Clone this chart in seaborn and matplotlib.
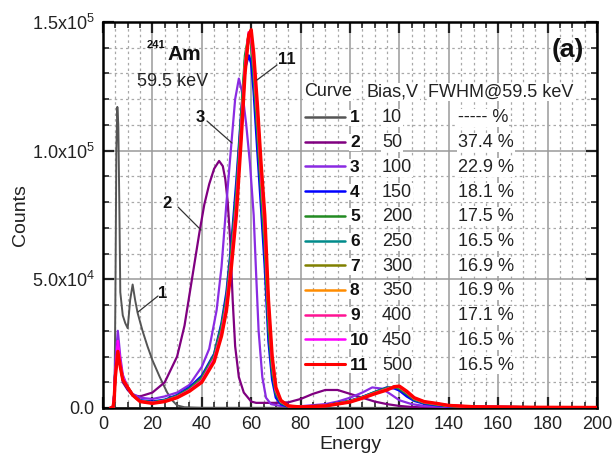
import numpy as np
import pandas as pd
import matplotlib
matplotlib.use("Agg")
import matplotlib.pyplot as plt
import seaborn as sns
from matplotlib.ticker import MultipleLocator, FixedLocator, FixedFormatter

# ---------------- data ----------------
curve_ids = ["1", "2", "3", "4", "5", "6", "7", "8", "9", "10", "11"]
bias_v = ["10", "50", "100", "150", "200", "250", "300", "350", "400", "450", "500"]
fwhm_txt = ["----- %", "37.4 %", "22.9 %", "18.1 %", "17.5 %", "16.5 %",
            "16.9 %", "16.9 %", "17.1 %", "16.5 %", "16.5 %"]
colors = ["#555555", "#800080", "#8A2BE2", "#0000FF", "#228B22", "#008B8B",
          "#808000", "#FF8C00", "#FF1493", "#FF00FF", "#FF0000"]

# curve 1 (10 V)
E1 = [3, 4, 4.6, 5, 5.4, 5.8, 6.2, 6.6, 7, 8, 9, 10, 11, 12, 13, 14, 16, 18, 20,
      23, 26, 28, 30, 33, 40, 200]
C1 = [0, 0, 0, 40000, 100000, 117000, 110000, 80000, 45000, 36000, 33000, 31000,
      42000, 48000, 42000, 37000, 30000, 24000, 18600, 12000, 6000, 3000, 1000,
      300, 100, 0]

# curve 2 (50 V)
E2 = [3, 4, 4.5, 5, 6, 7, 8, 10, 12, 15, 20, 25, 30, 33, 36, 39, 41, 43, 45, 47,
      48.5, 49.5, 50.5, 51.5, 52.5, 53.5, 55, 57, 60, 62, 65, 70, 75, 80, 85,
      90, 95, 100, 105, 110, 115, 120, 125, 130, 140, 200]
C2 = [0, 0, 5000, 15000, 25000, 17000, 10000, 7000, 5000, 4500, 6000, 10000,
      20000, 32000, 50000, 68000, 79000, 87000, 93000, 96000, 94000, 89000,
      80000, 65000, 42000, 24000, 12000, 6000, 2500, 2000, 2000, 2000, 2200,
      3500, 5500, 7000, 7000, 5500, 4000, 2500, 1500, 800, 400, 200, 100, 50]

# curve 3 (100 V)
E3 = [3, 4, 4.5, 5, 6, 7, 8, 10, 12, 15, 20, 25, 30, 35, 40, 43, 46, 48, 50, 52,
      53.5, 55, 56.5, 58, 59.5, 61, 62, 63, 64.5, 66, 68, 72, 80, 90, 95, 100,
      105, 109, 113, 117, 120, 125, 130, 140, 200]
C3 = [0, 0, 5000, 18000, 30000, 20000, 13000, 8000, 5500, 4000, 3500, 4500, 6000,
      9000, 16000, 23000, 38000, 55000, 80000, 103000, 120000, 128000, 122000,
      110000, 95000, 75000, 52000, 30000, 12000, 4000, 1500, 800, 700, 1500,
      2500, 4000, 6000, 8000, 7500, 5000, 3000, 1500, 800, 400, 200]

# curves 4-11 share one energy grid
E_main = [3, 4, 4.5, 5, 6, 7, 8, 10, 12, 15, 20, 25, 30, 35, 40, 45, 48, 50, 52,
          54, 56, 57.5, 59, 60, 61, 62.5, 64, 65.5, 67, 68.5, 70, 72, 75, 80, 90,
          100, 105, 110, 115, 118, 120, 123, 126, 130, 135, 140, 150, 170, 200]
C4 = [0, 0, 4000, 14000, 25000, 17000, 11000, 7500, 5000, 3000, 2500, 3200, 5000,
      8000, 12500, 21000, 33000, 45000, 64000, 88000, 115000, 132000, 137000,
      134000, 123000, 100000, 78000, 55000, 26000, 11000, 4000, 1500, 500, 400,
      1000, 2800, 4300, 6200, 8000, 7600, 6800, 4500, 2800, 1700, 1100, 700,
      400, 300, 200]
C5 = [0, 0, 3800, 14000, 24000, 17000, 11500, 8000, 5000, 2800, 2200, 3000, 4700,
      7500, 11800, 20500, 32000, 43000, 62000, 84000, 114000, 137000, 145000,
      141000, 129000, 107000, 84000, 62000, 31000, 14000, 5500, 2000, 600, 400,
      950, 2700, 4200, 6100, 7800, 8200, 7500, 5400, 3200, 2000, 1300, 800, 400,
      300, 200]
C6 = [0, 0, 3500, 13000, 24000, 17000, 11500, 8000, 5000, 2700, 2100, 2900, 4500,
      7200, 11300, 20000, 31000, 42000, 60000, 82000, 112000, 135000, 145000,
      142000, 131000, 110000, 87000, 66000, 34000, 16000, 6000, 2200, 700, 400,
      900, 2600, 4200, 6000, 7600, 8200, 7800, 5700, 3400, 2100, 1400, 800, 400,
      300, 200]
C7 = [0, 0, 3500, 13000, 23000, 17000, 11500, 8000, 5000, 2700, 2000, 2800, 4400,
      7000, 11000, 19500, 30000, 41000, 59000, 80000, 110000, 134000, 145000,
      143000, 133000, 112000, 89000, 68000, 36000, 17000, 6500, 2400, 700, 400,
      900, 2600, 4100, 5900, 7500, 8300, 8000, 5900, 3600, 2200, 1500, 900, 500,
      300, 200]
C8 = [0, 0, 3500, 13000, 23000, 17000, 11500, 8000, 5000, 2600, 1900, 2700, 4200,
      6800, 10500, 19000, 29000, 40000, 57000, 78000, 108000, 133000, 146000,
      145000, 135000, 114000, 91000, 70000, 38000, 18000, 7000, 2600, 800, 400,
      850, 2500, 4000, 5700, 7300, 8300, 8200, 6100, 3700, 2300, 1600, 900, 500,
      300, 200]
C9 = [0, 0, 3500, 13000, 24000, 17000, 11500, 8000, 5000, 2600, 1900, 2600, 4100,
      6700, 10300, 18500, 28500, 39000, 56000, 77000, 107000, 131000, 145000,
      144000, 135000, 115000, 92000, 71000, 39000, 18500, 7000, 2700, 800, 400,
      850, 2400, 3900, 5600, 7200, 8200, 8300, 6200, 3800, 2400, 1700, 1000,
      500, 300, 200]
C10 = [0, 0, 4000, 14000, 26000, 18000, 12000, 8000, 5000, 2600, 1900, 2600,
       4200, 6800, 10500, 19000, 29000, 40000, 57000, 78000, 108000, 132000,
       146000, 145000, 136000, 116000, 93000, 72000, 40000, 19000, 7500, 2800,
       800, 400, 850, 2400, 3900, 5600, 7200, 8300, 8400, 6300, 3900, 2400,
       1700, 1000, 500, 300, 200]
C11 = [0, 0, 3000, 12000, 22000, 16000, 11000, 8000, 5000, 2500, 1800, 2500,
       4000, 6500, 10000, 18000, 28000, 38000, 55000, 75000, 105000, 130000,
       145000, 147000, 138000, 118000, 95000, 75000, 42000, 20000, 8000, 3000,
       800, 400, 800, 2300, 3800, 5500, 7000, 8300, 8500, 6500, 4000, 2500,
       1800, 1000, 500, 300, 200]

x_ticks = [0, 20, 40, 60, 80, 100, 120, 140, 160, 180, 200]
y_ticks = [0, 50000, 100000, 150000]
y_ticklabels = ["0.0", r"5.0x10$^4$", r"1.0x10$^5$", r"1.5x10$^5$"]

energies = [E1, E2, E3] + [E_main] * 8
counts = [C1, C2, C3, C4, C5, C6, C7, C8, C9, C10, C11]

frames = []
for cid, e, c in zip(curve_ids, energies, counts):
    frames.append(pd.DataFrame({"Energy": e, "Counts": c, "Curve": cid}))
df = pd.concat(frames, ignore_index=True)

# ---------------- figure ----------------
sns.set_theme(style="white")
plt.rcParams["font.family"] = ["Liberation Sans", "DejaVu Sans"]
plt.rcParams["mathtext.fontset"] = "custom"
plt.rcParams["mathtext.rm"] = "Liberation Sans"

W, H = 614, 455
fig = plt.figure(figsize=(W / 100, H / 100), dpi=100)
ax = fig.add_axes([103 / W, 1 - 408 / H, 494 / W, 386 / H])

lws = [1.4, 1.6, 1.6, 1.8, 1.8, 1.8, 1.8, 1.8, 1.8, 1.8, 2.4]
for cid, col, lw in zip(curve_ids, colors, lws):
    sub = df[df["Curve"] == cid]
    sns.lineplot(data=sub, x="Energy", y="Counts", color=col, lw=lw,
                 estimator=None, sort=False, ax=ax, zorder=3)

ax.set_xlim(0, 200)
ax.set_ylim(0, 150000)
ax.xaxis.set_major_locator(FixedLocator(x_ticks))
ax.xaxis.set_minor_locator(MultipleLocator(5))
ax.yaxis.set_major_locator(FixedLocator(y_ticks))
ax.yaxis.set_major_formatter(FixedFormatter(y_ticklabels))
ax.yaxis.set_minor_locator(MultipleLocator(10000))

ax.tick_params(which="major", direction="in", length=8, width=1.6,
               top=True, right=True, bottom=True, left=True,
               labelsize=13, colors="#222222", pad=6)
ax.tick_params(which="minor", direction="in", length=4, width=1.2,
               top=True, right=True, bottom=True, left=True)
ax.grid(True, which="major", color="#9a9a9a", lw=1.1, ls="-", zorder=0)
ax.grid(True, which="minor", color="#a8a8a8", lw=0.9, ls=(0, (2, 2.5)),
        zorder=0)
ax.set_axisbelow(True)
for s in ax.spines.values():
    s.set_color("black")
    s.set_linewidth(1.8)

ax.set_xlabel("Energy", fontsize=14, labelpad=2, color="#222222")
ax.set_ylabel("Counts", fontsize=14, labelpad=2, color="#222222")


def P(px, py):
    return (px / W, 1 - py / H)


# source annotation
fig.text(*P(147, 45), "241", fontsize=8, fontweight="bold", va="center",
         ha="left", color="#111111")
fig.text(*P(167, 54), "Am", fontsize=15, fontweight="bold", va="center",
         ha="left", color="#111111")
fig.text(*P(137, 82), "59.5 keV", fontsize=13, va="center", ha="left",
         color="#222222")
fig.text(*P(568, 50), "(a)", fontsize=19, fontweight="bold", va="center",
         ha="center", color="#111111")

# curve labels with leader lines
labels = [("1", (163, 293), (158, 296), (138, 312)),
          ("2", (167, 203), (178, 207), (201, 230)),
          ("3", (200, 117), (207, 121), (232, 143)),
          ("11", (287, 60), (277, 65), (257, 80))]
for t, tp, l0, l1 in labels:
    fig.text(*P(*tp), t, fontsize=12, fontweight="bold", ha="center",
             va="center", color="#111111")
    fig.add_artist(plt.Line2D([l0[0] / W, l1[0] / W],
                              [1 - l0[1] / H, 1 - l1[1] / H],
                              color="#333333", lw=0.9))

# legend table
bb = dict(facecolor="white", edgecolor="none", pad=0.6)
fig.text(*P(304, 92), "Curve", fontsize=13, va="center", ha="left",
         color="#222222", bbox=bb)
fig.text(*P(367, 92), "Bias,V", fontsize=13, va="center", ha="left",
         color="#222222", bbox=bb)
fig.text(*P(428, 92), "FWHM@59.5 keV", fontsize=13, va="center", ha="left",
         color="#222222", bbox=bb)
row0, dy = 117, 24.7
for i, (cid, b, f, col) in enumerate(zip(curve_ids, bias_v, fwhm_txt, colors)):
    y = row0 + i * dy
    fig.add_artist(plt.Line2D([305 / W, 345 / W], [1 - y / H, 1 - y / H],
                              color=col, lw=2.2 if i == 10 else 1.8))
    fig.text(*P(350, y + 1), cid, fontsize=12.5, fontweight="bold",
             va="center", ha="left", color="#111111", bbox=bb)
    fig.text(*P(382, y + 1), b, fontsize=13, va="center", ha="left",
             color="#222222", bbox=bb)
    fig.text(*P(458, y + 1), f, fontsize=13, va="center", ha="left",
             color="#222222", bbox=bb)

fig.savefig("out.png", dpi=100)
